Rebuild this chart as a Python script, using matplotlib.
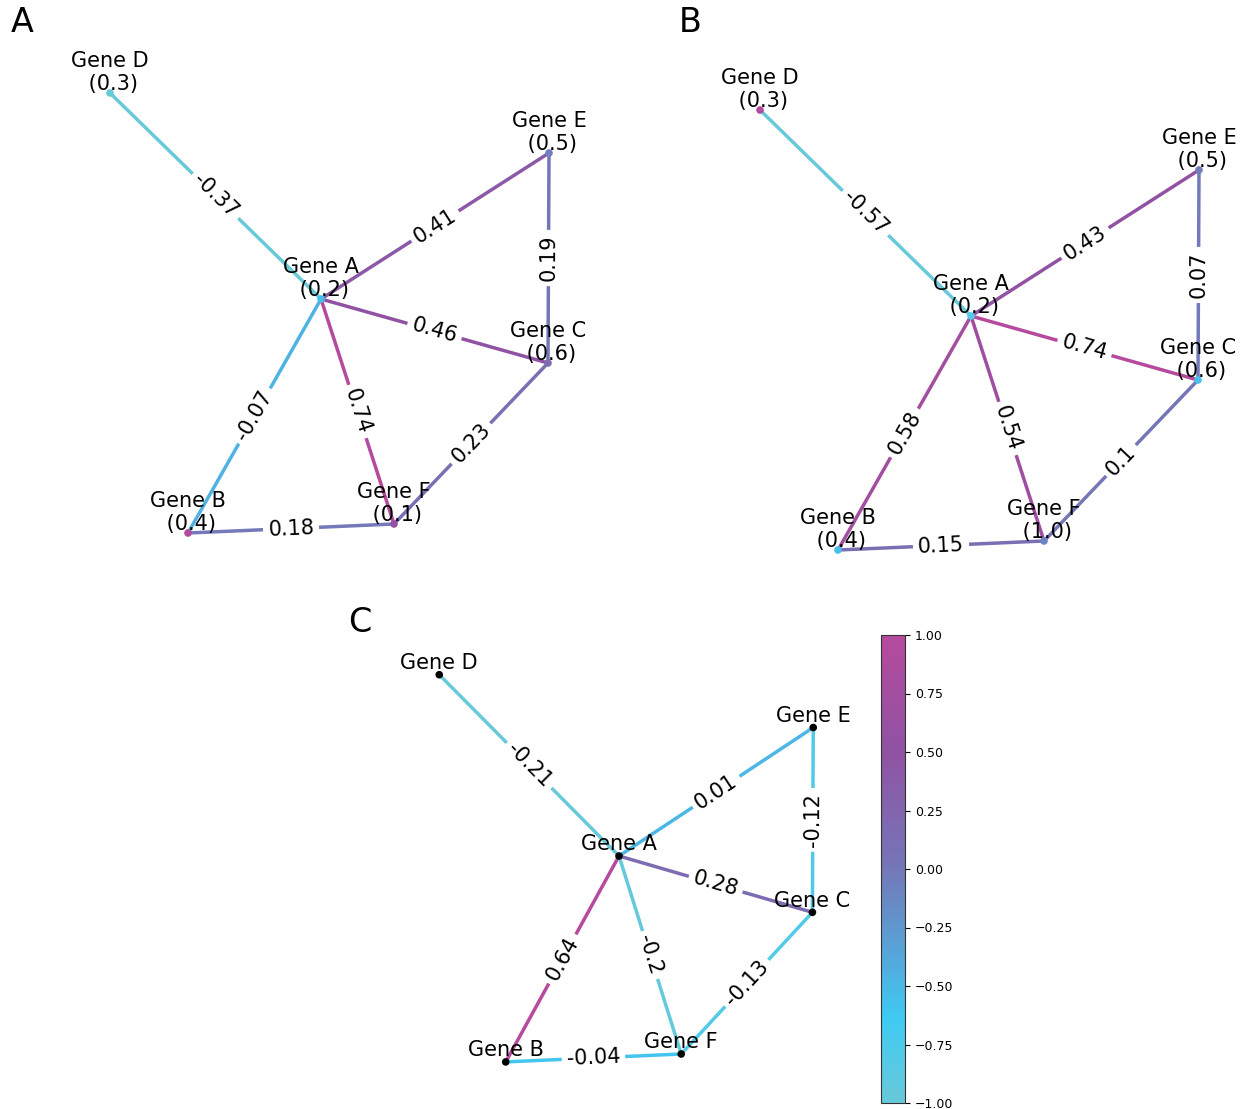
import numpy as np
import matplotlib
matplotlib.use("Agg")
import matplotlib.pyplot as plt
from matplotlib.colors import LinearSegmentedColormap, Normalize
from matplotlib.cm import ScalarMappable

# ---------------- data ----------------
nodes = ["Gene A", "Gene B", "Gene C", "Gene D", "Gene E", "Gene F"]
edges = [("Gene D", "Gene A"), ("Gene A", "Gene E"), ("Gene E", "Gene C"),
         ("Gene A", "Gene C"), ("Gene A", "Gene B"), ("Gene A", "Gene F"),
         ("Gene C", "Gene F"), ("Gene B", "Gene F")]

weights_A = [-0.37, 0.41, 0.19, 0.46, -0.07, 0.74, 0.23, 0.18]
weights_B = [-0.57, 0.43, 0.07, 0.74, 0.58, 0.54, 0.10, 0.15]
weights_C = [-0.21, 0.01, -0.12, 0.28, 0.64, -0.20, -0.13, -0.04]

node_vals_A = [0.2, 0.4, 0.6, 0.3, 0.5, 0.1]
node_vals_B = [0.2, 0.4, 0.6, 0.3, 0.5, 1.0]

# node colour values (on the -1..1 colour scale)
node_col_A = [-0.55, 0.90, 0.15, -1.00, -0.05, 0.55]
node_col_B = [-0.85, -0.55, -0.55, 0.95, -0.05, -0.10]

# layout (shared by all panels)
pos = {"Gene A": (0.00, 0.00), "Gene B": (-1.33, -2.34), "Gene C": (2.27, -0.64),
       "Gene D": (-2.11, 2.06), "Gene E": (2.28, 1.46), "Gene F": (0.73, -2.25)}

cbar_ticks = [-1.0, -0.75, -0.5, -0.25, 0.0, 0.25, 0.5, 0.75, 1.0]

# ---------------- style ----------------
cmap = LinearSegmentedColormap.from_list(
    "genes",
    [(0.00, "#68C9D9"), (0.18, "#3FCAF3"), (0.50, "#7477B8"),
     (0.75, "#9052A3"), (1.00, "#B64A9E")])

W, H = 1249, 1109
fig = plt.figure(figsize=(W / 100, H / 100), dpi=100)


def add_ax(x0, y0, x1, y1):
    return fig.add_axes([x0 / W, 1 - y1 / H, (x1 - x0) / W, (y1 - y0) / H])


def draw_panel(ax, weights, node_labels, node_colors, label_offset, node_size):
    ax.set_axis_off()
    norm = Normalize(min(weights), max(weights))
    for (u, v), w in zip(edges, weights):
        x = [pos[u][0], pos[v][0]]
        y = [pos[u][1], pos[v][1]]
        ax.plot(x, y, color=cmap(norm(w)), lw=2.5, zorder=1, solid_capstyle="butt")
    xs = [pos[n][0] for n in nodes]
    ys = [pos[n][1] for n in nodes]
    ax.scatter(xs, ys, s=node_size, c=node_colors, zorder=2, linewidths=0)
    for n, lab in zip(nodes, node_labels):
        ax.annotate(lab, pos[n], xytext=(0, label_offset), textcoords="offset points",
                    ha="center", va="center", fontsize=15, zorder=4,
                    multialignment="center", linespacing=1.2)
    fig.canvas.draw()
    for (u, v), w in zip(edges, weights):
        p1 = ax.transData.transform(pos[u])
        p2 = ax.transData.transform(pos[v])
        ang = np.degrees(np.arctan2(p2[1] - p1[1], p2[0] - p1[0]))
        if ang > 90:
            ang -= 180
        if ang < -90:
            ang += 180
        mx = (pos[u][0] + pos[v][0]) / 2
        my = (pos[u][1] + pos[v][1]) / 2
        ax.text(mx, my, f"{w:g}", rotation=ang, rotation_mode="anchor",
                ha="center", va="center", fontsize=15, zorder=3,
                bbox=dict(boxstyle="round,pad=0.2", ec="white", fc="white"))


# Panel A
axA = add_ax(0, 0, 620, 565)
axA.set_xlim(-3.21, 2.99)
axA.set_ylim(-2.66, 2.99)
labA = [f"{n}\n ({v})" for n, v in zip(nodes, node_vals_A)]
draw_panel(axA, weights_A, labA, [cmap((c + 1) / 2) for c in node_col_A], 14.8, 30)

# Panel B
axB = add_ax(630, 0, 1249, 580)
axB.set_xlim(-3.41, 2.78)
axB.set_ylim(-2.64, 3.16)
labB = [f"{n}\n ({v})" for n, v in zip(nodes, node_vals_B)]
draw_panel(axB, weights_B, labB, [cmap((c + 1) / 2) for c in node_col_B], 14.8, 30)

# Panel C
axC = add_ax(340, 600, 870, 1109)
axC.set_xlim(-3.275, 2.946)
axC.set_ylim(-2.875, 2.909)
draw_panel(axC, weights_C, nodes, ["black"] * len(nodes), 8.5, 30)

# colour bar
cax = add_ax(881, 635, 905, 1103)
sm = ScalarMappable(norm=Normalize(-1, 1), cmap=cmap)
cb = fig.colorbar(sm, cax=cax, ticks=cbar_ticks)
cb.ax.set_yticklabels([f"{t:.2f}".replace("-", "\u2212") for t in cbar_ticks])
cb.ax.tick_params(labelsize=9)
cb.outline.set_edgecolor("#333333")

# panel letters
fig.text(22 / W, 1 - 22 / H, "A", fontsize=24, ha="center", va="center")
fig.text(690 / W, 1 - 22 / H, "B", fontsize=24, ha="center", va="center")
fig.text(360 / W, 1 - 623 / H, "C", fontsize=24, ha="center", va="center")

fig.savefig("out.png", dpi=100)
